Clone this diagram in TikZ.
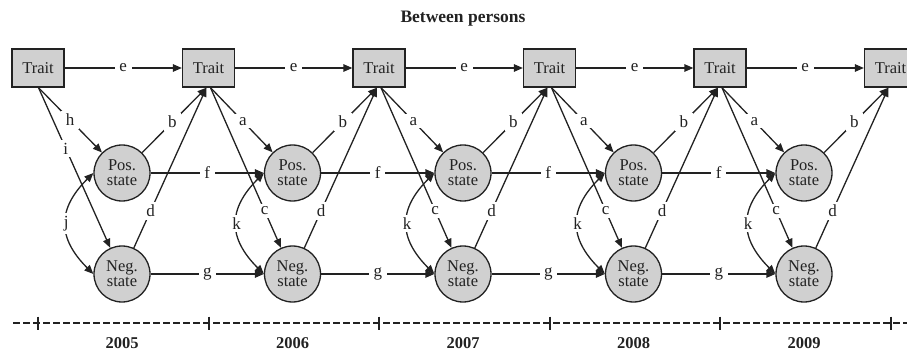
\documentclass[tikz,border=0pt]{standalone}
\usepackage{fontspec}
\setmainfont{Liberation Serif}
\usetikzlibrary{arrows.meta}
\definecolor{ink}{HTML}{222222}
\definecolor{boxfill}{HTML}{D0D0D0}
\begin{document}
\begin{tikzpicture}[x=1pt,y=1pt,
  trait/.style={draw=ink, line width=1.3pt, fill=boxfill, minimum width=52pt, minimum height=38pt, inner sep=0pt, text=ink, font=\fontsize{16.5}{16}\selectfont},
  state/.style={circle, draw=ink, line width=1.3pt, fill=boxfill, minimum size=56pt, inner sep=0pt, align=center, text=ink, font=\fontsize{16.5}{15}\selectfont},
  arr/.style={draw=ink, line width=1.3pt, -{Triangle[length=9pt,width=7.5pt]}},
  darr/.style={draw=ink, line width=1.3pt, {Triangle[length=9pt,width=7.5pt]}-{Triangle[length=9pt,width=7.5pt]}},
  lab/.style={fill=white, inner xsep=4.5pt, inner ysep=3pt, text=ink, font=\fontsize{17}{17}\selectfont},
  year/.style={text=ink, font=\bfseries\fontsize{16.5}{17}\selectfont},
  timeline/.style={draw=ink, line width=2pt, dash pattern=on 7pt off 3pt},
  tick/.style={draw=ink, line width=2pt},
]
\useasboundingbox (0,0) rectangle (907,351);
\node[text=ink, font=\bfseries\fontsize{17.5}{18}\selectfont] (title) at (463,332) {Between persons};

\foreach \i in {0,...,5} \node[trait] (t\i) at ({38+170.5*\i},283) {Trait};
\foreach \i in {1,...,5} {
  \node[state] (p\i) at ({122+170.5*(\i-1)},178) {Pos.\\state};
  \node[state] (n\i) at ({122+170.5*(\i-1)},77) {Neg.\\state};
}

% trait to trait
\foreach \i [evaluate=\i as \j using int(\i+1)] in {0,...,4}
  \draw[arr] (t\i) -- node[lab] {e} (t\j);

% first year
\draw[arr] ([xshift=0.5pt]t0.south) -- node[lab,pos=0.5] {h} (p1);
\draw[arr] ([xshift=0.5pt]t0.south) -- node[lab,pos=0.38] {i} (n1);
\draw[darr] (p1.west) to[out=225,in=135,looseness=1.3] node[lab] {j} (n1.west);

% later years
\foreach \i [evaluate=\i as \j using int(\i+1)] in {1,...,4} {
  \draw[arr] ([xshift=2pt]t\i.south) -- node[lab,pos=0.52] {a} (p\j);
  \draw[arr] ([xshift=2pt]t\i.south) -- node[lab,pos=0.77] {c} (n\j);
  \draw[darr] (p\j.west) to[out=225,in=135,looseness=1.3] node[lab] {k} (n\j.west);
  \draw[arr] (p\i) -- node[lab] {f} (p\j);
  \draw[arr] (n\i) -- node[lab] {g} (n\j);
}

% states to trait
\foreach \i in {1,...,5} {
  \draw[arr] (p\i) -- node[lab,pos=0.47] {b} ([xshift=-2pt]t\i.south);
  \draw[arr] (n\i) -- node[lab,pos=0.23] {d} ([xshift=-2pt]t\i.south);
}

% timeline
\coordinate (tlstart) at (13,28);
\coordinate (tlend) at (907,28);
\draw[timeline] (tlstart) -- (tlend);
\foreach \i in {0,...,5} {
  \coordinate (tk\i) at ({38+170.5*\i},28);
  \draw[tick] (tk\i) ++(0,6.5) -- ++(0,-13);
}
\foreach \i in {1,...,5} {
  \pgfmathtruncatemacro{\yr}{2004+\i}
  \node[year] (y\i) at ({122+170.5*(\i-1)},8) {\yr};
}
\end{tikzpicture}
\end{document}
